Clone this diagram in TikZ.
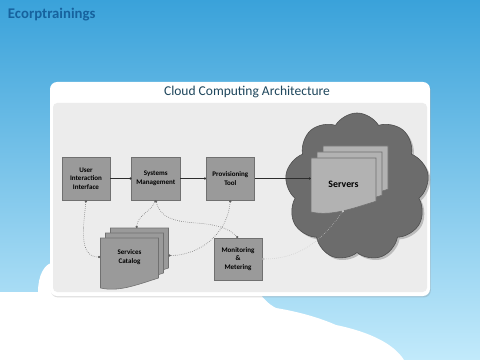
\documentclass[tikz,border=0pt]{standalone}
\usepackage{fontspec}
\setmainfont{Carlito}
\usetikzlibrary{arrows.meta,positioning,shapes.symbols,shadows}
\definecolor{skytop}{RGB}{58,162,218}
\definecolor{skylow}{RGB}{194,234,251}
\definecolor{brand}{RGB}{22,98,158}
\definecolor{heading}{RGB}{30,70,92}
\definecolor{panelgray}{RGB}{236,236,236}
\definecolor{boxgray}{RGB}{154,154,154}
\definecolor{edgegray}{RGB}{112,112,112}
\definecolor{cloudgray}{RGB}{108,108,108}
\definecolor{sheetgray}{RGB}{178,178,178}
\definecolor{linkgray}{RGB}{96,96,96}
\definecolor{ink}{RGB}{45,45,45}
\tikzset{
  >={Circle[length=1.6pt]},
  unit/.style={draw=edgegray,fill=boxgray,minimum width=1.2cm,minimum height=1.075cm,
    align=center,font=\fontsize{5}{6}\selectfont\bfseries,inner sep=1pt},
  sheetlabel/.style={minimum width=#1,minimum height=1.25cm,align=center,
    font=\fontsize{5}{6}\selectfont\bfseries,inner sep=1pt},
  sheetlabel/.default=1.45cm,
  feed/.style={->,thin,draw=ink},
  link/.style={<->,densely dotted,thin,draw=#1},
  link/.default=linkgray,
  % stacked document sheets: width/height/offset/fill
  pics/docstack/.style n args={4}{code={
    \foreach \k in {2,1,0}
      \filldraw[draw=edgegray,fill=#4,thin] ({\k*#3},{-\k*#3}) -- ({\k*#3+#1},{-\k*#3})
        -- ({\k*#3+#1},{-\k*#3+0.8*#2})
        .. controls ({\k*#3+0.6*#1},{-\k*#3+0.95*#2}) and ({\k*#3+0.3*#1},{-\k*#3+1.08*#2})
        .. ({\k*#3},{-\k*#3+#2}) -- cycle;
    \coordinate (-top) at ({2*#3+0.45*#1},{-2*#3});
    \coordinate (-right) at ({2*#3+#1},{-2*#3+0.55*#2});
  }},
}

\begin{document}
\begin{tikzpicture}[x=0.025cm,y=-0.025cm]
  \useasboundingbox (0,0) rectangle (480,360);
  \shade[top color=skytop,bottom color=skylow] (0,0) rectangle (480,360);
  \fill[white] (0,292) -- (38,292) .. controls (38,276) and (44,262) .. (56,262) -- (250,280)
    .. controls (262,298) and (268,304) .. (276,308) .. controls (300,312) and (320,318) .. (336,325)
    .. controls (370,332) and (394,344) .. (404,360) -- (0,360) -- cycle;
  \node[anchor=west,font=\fontsize{10.5}{12}\selectfont\bfseries,text=brand] (brand) at (3,15) {Ecorptrainings};

  \fill[white,rounded corners=5pt,drop shadow={opacity=0.25,shadow xshift=0.6pt,shadow yshift=-1pt}]
    (50,82) rectangle (430,296);
  \fill[panelgray,rounded corners=3pt] (53,103) rectangle (427,292);
  \node[font=\fontsize{9.6}{11}\selectfont,text=heading] (title) at (247,92) {Cloud Computing Architecture};

  \node[cloud,cloud puffs=9,cloud puff arc=120,aspect=1,fill=cloudgray,draw=cloudgray!70!black,
    minimum width=3.6cm,minimum height=3.7cm,drop shadow={opacity=0.45,shadow xshift=1.5pt,shadow yshift=-1.5pt}]
    (sky) at (357,187) {};

  \node[unit] (uii) at (86,178.5) {User\\Interaction\\Interface};
  \node[unit,right=0.53cm of uii] (sm) {Systems\\Management};
  \node[unit,right=0.65cm of sm] (pt) {Provisioning\\Tool};
  \node[unit,minimum height=1.05cm] (mon) at (238,259) {Monitoring\\\&\\Metering};

  \pic (cat) at (100.5,238) {docstack={58}{50}{5}{boxgray}};
  \node[sheetlabel] (cat) at (129.5,257) {Services\\Catalog};
  \pic (srvs) at (311,158) {docstack={65}{54}{6}{sheetgray}};
  \node[sheetlabel=1.625cm,minimum height=1.3cm,font=\fontsize{7}{8}\selectfont\bfseries] (srv) at (343.5,184) {Servers};

  \draw[feed] (uii) -- (sm);
  \draw[feed] (sm) -- (pt);
  \draw[feed] (pt.east) -- (pt.east -| srv.west);

  \draw[link] (uii.south) to[out=-95,in=180] (cat.west);
  \draw[link] (sm.south) to[out=-115,in=85] (cat-top);
  \draw[link] (sm.south) to[out=-75,in=135] (mon.north);
  \draw[link] (pt.south) to[out=-95,in=0] (cat-right);
  \draw[link=gray!45] (mon.east) to[out=0,in=-125] (srv.south);
\end{tikzpicture}
\end{document}
